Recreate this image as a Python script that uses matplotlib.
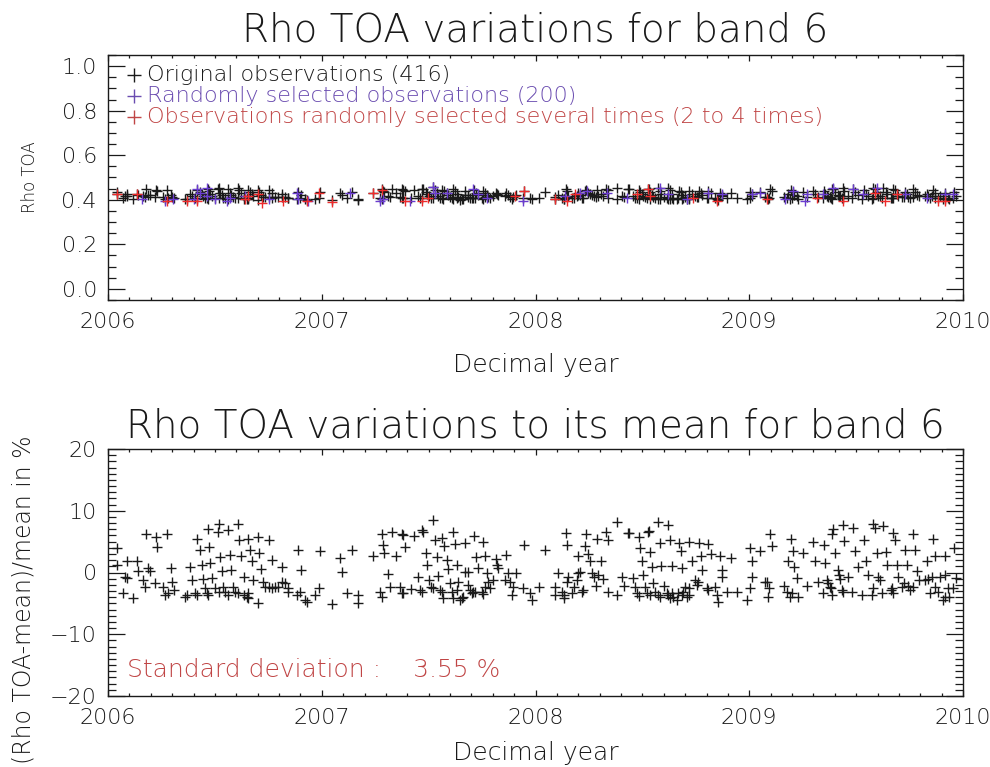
"""Rho TOA variations for band 6 - time series and relative deviation."""

import matplotlib

matplotlib.use("Agg")
import matplotlib.pyplot as plt
import numpy as np
from matplotlib.ticker import FormatStrFormatter, MultipleLocator

# relative deviation to the mean (%), by year
YEARS_2006 = [
    2006.041, 2006.041, 2006.088, 2006.134, 2006.080, 2006.088, 2006.072, 2006.119,
    2006.177, 2006.225, 2006.275, 2006.231, 2006.142, 2006.189, 2006.197, 2006.166, 2006.173,
    2006.220, 2006.259, 2006.267, 2006.283, 2006.294, 2006.298, 2006.311,
    2006.361, 2006.368, 2006.384, 2006.395, 2006.407, 2006.415,
    2006.415, 2006.431, 2006.442, 2006.478, 2006.446, 2006.485, 2006.454, 2006.462, 2006.470,
    2006.467, 2006.513, 2006.517, 2006.474, 2006.524,
    2006.501, 2006.517, 2006.540, 2006.548, 2006.563, 2006.587, 2006.595, 2006.610, 2006.634,
    2006.649, 2006.657, 2006.654,
    2006.563, 2006.606, 2006.571, 2006.532, 2006.576,
    2006.613, 2006.657, 2006.701, 2006.623, 2006.634,
    2006.665, 2006.673, 2006.707, 2006.680, 2006.701, 2006.716,
    2006.727, 2006.735, 2006.751, 2006.766, 2006.782, 2006.797, 2006.813, 2006.829, 2006.844, 2006.844,
    2006.755, 2006.766, 2006.816, 2006.891, 2006.902, 2006.883, 2006.899, 2006.930, 2006.922,
    2006.969, 2006.985, 2006.992,
]
PCT_2006 = [
    3.9, 1.2, 1.8, 1.8, -0.7, -0.9, -3.3, -4.2,
    6.3, 5.8, 6.2, 4.1, 0.2, 0.7, 0.2, -1.2, -2.3,
    -1.7, -2.3, -3.6, -3.3, 0.7, -1.5, -2.8,
    -3.9, -3.6, 0.9, -1.2, -3.3, -3.6,
    5.4, 3.7, 1.2, 1.5, -1.0, -0.9, -2.5, -3.3, -3.6,
    7.0, 6.5, 7.9, 4.2, 2.5,
    -2.5, -3.1, -2.4, -3.2, -3.6, -2.3, -3.2, -3.3, -3.6,
    -3.9, -3.3, -4.2,
    6.9, 7.9, 2.9, 0.2, 0.4,
    5.3, 5.5, 5.7, 2.6, -0.7,
    3.7, 1.8, 3.2, -1.2, -5.0, 0.5,
    -1.5, -2.3, -2.3, -2.5, -2.3, -2.3, -1.5, -1.7, -2.5, -3.1,
    5.3, 2.0, 0.9, 3.7, 0.4, -3.6, -3.1, -4.7, -4.4,
    -3.6, -2.5, 3.5,
]

YEARS_2007 = [
    2007.049, 2007.085, 2007.140, 2007.093, 2007.116, 2007.171, 2007.171,
    2007.280, 2007.327, 2007.377, 2007.382, 2007.433, 2007.475, 2007.471, 2007.522,
    2007.288, 2007.293, 2007.241, 2007.346, 2007.389, 2007.308,
    2007.272, 2007.283, 2007.319, 2007.366, 2007.374, 2007.382, 2007.417,
    2007.452, 2007.460, 2007.471, 2007.488, 2007.494, 2007.502, 2007.511, 2007.522,
    2007.530, 2007.564, 2007.616, 2007.714, 2007.756, 2007.572, 2007.623, 2007.670,
    2007.541, 2007.584, 2007.545, 2007.589, 2007.631,
    2007.553, 2007.561, 2007.569, 2007.600, 2007.608, 2007.616, 2007.631, 2007.639, 2007.647,
    2007.655, 2007.662,
    2007.670, 2007.686,
    2007.686, 2007.694, 2007.701, 2007.709, 2007.717, 2007.748, 2007.756, 2007.764,
    2007.720, 2007.764, 2007.729, 2007.775,
    2007.779, 2007.787, 2007.803,
    2007.814, 2007.818, 2007.823,
    2007.862, 2007.870, 2007.907,
    2007.857, 2007.881, 2007.896, 2007.892,
    2007.948, 2007.943, 2007.974, 2007.982,
]
PCT_2007 = [
    -5.1, 2.3, 3.65, 0.15, -3.3, -3.6, -5.0,
    6.3, 6.6, 6.3, 6.1, 5.9, 6.6, 6.9, 8.5,
    4.5, 3.1, 2.7, 2.7, 4.1, -0.2,
    -3.2, -4.0, -2.3, -2.3, -3.3, -3.4, -2.7,
    -0.75, -2.8, -3.2, 3.2, 1.2, -1.2, -2.4, -2.5,
    5.3, 5.6, 6.5, 5.9, 4.9, 4.3, 4.6, 4.8,
    2.5, 2.0, -0.5, 0.5, 1.2,
    -2.8, -3.1, -4.15, -1.7, -3.2, -4.15, -2.8, -1.5, -4.5,
    -4.15, -3.9,
    0.15, 0.15,
    -2.0, -2.8, -3.3, -3.2, -3.1, -3.1, -3.5, -2.3,
    2.5, 2.7, 0.7, 0.0,
    -1.5, -2.5, -1.2,
    2.2, 1.2, 0.7,
    2.85, 0.0, 0.0,
    -1.2, -1.5, -2.3, -3.6,
    4.5, -2.5, -3.3, -4.4,
]

YEARS_2008 = [
    2008.017, 2008.045, 2008.092, 2008.092, 2008.107, 2008.131, 2008.131, 2008.123,
    2008.142, 2008.149, 2008.154, 2008.146,
    2008.170, 2008.182, 2008.193, 2008.201, 2008.198,
    2008.209, 2008.216, 2008.224,
    2008.235, 2008.232, 2008.244, 2008.255, 2008.305,
    2008.263, 2008.276, 2008.294, 2008.282, 2008.318,
    2008.287, 2008.330, 2008.338,
    2008.341, 2008.380, 2008.380,
    2008.407, 2008.416, 2008.458, 2008.505,
    2008.432, 2008.438,
    2008.482, 2008.489, 2008.497, 2008.536,
    2008.466, 2008.474, 2008.482, 2008.513, 2008.521, 2008.536, 2008.552, 2008.560, 2008.575,
    2008.583, 2008.599, 2008.614, 2008.622, 2008.630, 2008.638, 2008.645, 2008.661, 2008.669,
    2008.684, 2008.708, 2008.716, 2008.700, 2008.716,
    2008.525, 2008.532,
    2008.544, 2008.588, 2008.638, 2008.684,
    2008.572, 2008.619,
    2008.583, 2008.630, 2008.672, 2008.716, 2008.766, 2008.809,
    2008.680, 2008.731,
    2008.692,
    2008.747, 2008.755, 2008.762,
    2008.773, 2008.822, 2008.864, 2008.914,
    2008.778,
    2008.801, 2008.809, 2008.840, 2008.848, 2008.856,
    2008.872, 2008.872,
    2008.895, 2008.942,
]
PCT_2008 = [
    -2.4, 3.65, -2.3, -3.6, -0.1, -3.6, -4.15, -3.1,
    6.45, 4.5, -0.65, -1.5,
    -3.3, -2.4, -1.2, -0.1, 2.6,
    0.15, -3.1, -2.9,
    6.2, 4.3, 3.0, 1.8, 1.9,
    -0.1, -0.65, -0.4, -2.2, -1.1,
    5.5, 6.6, 5.3,
    -3.1, -3.6, 8.2,
    -0.75, -2.2, -0.9, -0.4,
    6.45, 6.45,
    5.7, 4.0, 1.8, 3.4,
    -2.4, -3.3, -3.8, -2.3, -3.3, -3.6, -1.7, -3.1, -3.6,
    -3.9, -2.2, -3.3, -3.6, -4.15, -3.3, -3.9, -4.4, -3.3,
    -3.6, -3.9, -3.6, -2.3, -2.5,
    6.6, 6.8,
    0.85, 1.1, 1.1, 0.7,
    8.2, 7.7,
    4.8, 5.3, 4.8, 5.0, 4.7, 4.6,
    3.5, 1.8,
    -3.1,
    -1.2, -2.0, -1.5,
    2.7, 2.95, 2.6, 2.3,
    0.4,
    -2.5, -2.8, -2.4, -3.6, -4.7,
    0.4, -0.65,
    -3.1, -3.1,
]

YEARS_2009 = [
    2008.988, 2009.003, 2009.011, 2009.014, 2009.003,
    2009.050, 2009.097, 2009.105,
    2009.074, 2009.081, 2009.092, 2009.086,
    2009.195, 2009.206, 2009.253,
    2009.180, 2009.211, 2009.222,
    2009.164, 2009.175, 2009.198, 2009.191, 2009.230,
    2009.269,
    2009.300, 2009.350, 2009.308, 2009.354,
    2009.320, 2009.362, 2009.370, 2009.378, 2009.382, 2009.347, 2009.389,
    2009.389, 2009.393, 2009.437, 2009.487,
    2009.401, 2009.414, 2009.420,
    2009.425, 2009.432, 2009.440, 2009.464, 2009.479,
    2009.445,
    2009.495, 2009.507, 2009.545,
    2009.538,
    2009.526, 2009.557, 2009.573, 2009.581, 2009.604, 2009.612, 2009.620,
    2009.577, 2009.588, 2009.627,
    2009.596, 2009.638,
    2009.643, 2009.690, 2009.737,
    2009.663, 2009.674, 2009.666, 2009.698,
    2009.674, 2009.682,
    2009.713, 2009.726, 2009.744, 2009.752, 2009.768,
    2009.729, 2009.776, 2009.768,
    2009.787, 2009.794,
    2009.822, 2009.838, 2009.854,
    2009.830, 2009.869, 2009.916, 2009.861, 2009.960,
    2009.846, 2009.869, 2009.885, 2009.893, 2009.932, 2009.916, 2009.955, 2009.966,
    2009.908, 2009.916, 2009.935,
]
PCT_2009 = [
    -4.4, 3.9, 1.8, -0.75, -2.5,
    3.5, 6.3, 4.3,
    -1.5, -1.6, -2.5, -3.9,
    5.5, 3.5, 3.1,
    1.8, 0.85, -0.9,
    -2.2, -3.1, -3.3, -4.0, -3.9,
    -2.2,
    4.9, 4.5, 1.8, 1.5,
    -1.5, -1.2, -1.7, -2.3, -2.5, -3.3, -3.6,
    6.3, 7.0, 7.7, 7.2,
    3.1, 0.4, -0.4,
    -1.1, -2.8, -3.1, -0.65, -3.1,
    5.1,
    3.5, 0.85, 1.8,
    5.3,
    -3.6, -0.4, -3.6, -2.5, -0.65, -1.2, -3.3,
    7.85, 7.2, 7.5,
    3.2, 3.4,
    1.2, 1.2, 1.2,
    -2.8, -3.3, -2.5, -0.75,
    6.45, 5.2,
    -2.3, -1.7, -2.2, -2.8, -2.3,
    3.65, 3.65, 6.3,
    0.3, -1.2,
    -1.2, -1.1, -0.65,
    1.8, 2.6, 2.7, 5.4, 4.0,
    -3.3, -2.4, -3.1, -0.65, -2.5, -0.4, -2.5, -0.9,
    -4.4, -4.0, -3.9,
]

RHO_MEAN = 0.42
STD_PCT = 3.55

# observations randomly selected once (purple) and several times (red), upper panel
PURPLE_YEARS = [
    2006.158, 2006.267, 2006.306, 2006.400, 2006.415, 2006.431, 2006.462, 2006.462, 2006.501,
    2006.556, 2006.571, 2006.641, 2006.751, 2006.883, 2006.891, 2006.938,
    2007.132, 2007.272, 2007.288, 2007.413, 2007.522, 2007.530, 2007.584, 2007.709, 2007.733,
    2007.772, 2007.943,
    2008.138, 2008.209, 2008.240, 2008.333, 2008.427, 2008.583, 2008.622, 2008.708, 2008.809,
    2008.872,
    2009.011, 2009.050, 2009.167, 2009.206, 2009.261, 2009.269, 2009.347, 2009.393, 2009.487,
    2009.534, 2009.596, 2009.729, 2009.830, 2009.916, 2009.955,
]
PURPLE_RHO = [
    0.405, 0.395, 0.402, 0.402, 0.447, 0.432, 0.454, 0.417, 0.402,
    0.395, 0.410, 0.417, 0.402, 0.432, 0.402, 0.395,
    0.432, 0.395, 0.402, 0.395, 0.459, 0.432, 0.432, 0.447, 0.424,
    0.410, 0.395,
    0.417, 0.432, 0.439, 0.432, 0.410, 0.454, 0.424, 0.402, 0.432,
    0.424,
    0.424, 0.432, 0.402, 0.439, 0.395, 0.424, 0.424, 0.454, 0.447,
    0.424, 0.454, 0.424, 0.410, 0.424, 0.424,
]
RED_YEARS = [
    2006.041, 2006.134, 2006.275, 2006.368, 2006.415, 2006.641, 2006.657, 2006.704, 2006.719,
    2006.821, 2006.930, 2006.988,
    2007.049, 2007.241, 2007.283, 2007.389, 2007.467, 2007.499, 2007.904, 2007.948,
    2008.092, 2008.146, 2008.185, 2008.474, 2008.528, 2008.536, 2008.739, 2008.848,
    2009.081, 2009.315, 2009.440, 2009.588, 2009.635, 2009.690, 2009.885, 2009.916,
]
RED_RHO = [
    0.424, 0.424, 0.395, 0.395, 0.395, 0.402, 0.417, 0.424, 0.387,
    0.395, 0.395, 0.432,
    0.390, 0.429, 0.444, 0.395, 0.395, 0.410, 0.417, 0.439,
    0.402, 0.395, 0.424, 0.424, 0.447, 0.417, 0.410, 0.395,
    0.405, 0.410, 0.395, 0.432, 0.395, 0.424, 0.395, 0.395,
]

BLACK = "#1a1a1a"
PURPLE = "#6a3ccf"
RED = "#ee2b2b"
TEXT_PURPLE = "#6a4cb0"
TEXT_RED = "#c04545"

plt.rcParams["font.family"] = "DejaVu Sans"
plt.rcParams["font.weight"] = "light"
plt.rcParams["axes.titleweight"] = "light"
plt.rcParams["axes.labelweight"] = "light"


def style_axes(ax, ymajor, yminor):
    ax.set_xlim(2006, 2010)
    ax.xaxis.set_major_locator(MultipleLocator(1))
    ax.xaxis.set_minor_locator(MultipleLocator(0.1))
    ax.yaxis.set_major_locator(MultipleLocator(ymajor))
    ax.yaxis.set_minor_locator(MultipleLocator(yminor))
    ax.tick_params(axis="both", which="both", direction="in", top=True, right=True,
                   width=0.9, color=BLACK, labelcolor=BLACK)
    ax.tick_params(axis="x", which="major", length=4, pad=9, labelsize=16)
    ax.tick_params(axis="x", which="minor", length=2)
    ax.tick_params(axis="y", which="major", length=12, pad=8, labelsize=16)
    ax.tick_params(axis="y", which="minor", length=6)
    for spine in ax.spines.values():
        spine.set_linewidth(1.0)
        spine.set_color(BLACK)


years = np.array(YEARS_2006 + YEARS_2007 + YEARS_2008 + YEARS_2009)
pct = np.array(PCT_2006 + PCT_2007 + PCT_2008 + PCT_2009)
rho = RHO_MEAN * (1 + pct / 100)

fig = plt.figure(figsize=(9.9, 7.67), dpi=100, facecolor="white")
ax1 = fig.add_axes([108 / 990, 1 - 300 / 767, 855 / 990, 245 / 767])
ax2 = fig.add_axes([108 / 990, 1 - 696 / 767, 855 / 990, 247 / 767])

mk = dict(marker="+", linestyle="none", markersize=7, markeredgewidth=1.0)

# upper panel
ax1.plot(years, rho, color=BLACK, **mk)
ax1.plot(PURPLE_YEARS, PURPLE_RHO, color=PURPLE, **mk)
ax1.plot(RED_YEARS, RED_RHO, color=RED, **mk)
ax1.set_ylim(-0.05, 1.05)
style_axes(ax1, 0.2, 0.05)
ax1.yaxis.set_major_formatter(FormatStrFormatter("%.1f"))
ax1.set_title("Rho TOA variations for band 6", fontsize=28, pad=10, color=BLACK)
ax1.set_xlabel("Decimal year", fontsize=18, labelpad=15, color=BLACK)
ax1.set_ylabel("Rho TOA", fontsize=12, labelpad=16, color=BLACK)

legend_rows = [
    ("Original observations (416)", BLACK),
    ("Randomly selected observations (200)", TEXT_PURPLE),
    ("Observations randomly selected several times (2 to 4 times)", TEXT_RED),
]
for i, (label, color) in enumerate(legend_rows):
    y = 0.92 - i * 0.086
    ax1.plot([0.03], [y], marker="+", color=color, markersize=10, markeredgewidth=1.0,
             transform=ax1.transAxes, clip_on=False)
    ax1.text(0.046, y, label, color=color, fontsize=16, transform=ax1.transAxes, va="center")

# lower panel
ax2.plot(years, pct, color=BLACK, **mk)
ax2.set_ylim(-20, 20)
style_axes(ax2, 10, 1)
ax2.set_title("Rho TOA variations to its mean for band 6", fontsize=28, pad=8, color=BLACK)
ax2.set_xlabel("Decimal year", fontsize=18, labelpad=9, color=BLACK)
ax2.set_ylabel("(Rho TOA-mean)/mean in %", fontsize=17, color=BLACK)
ax2.yaxis.set_label_coords(-0.085, 0.39)
ax2.text(0.022, 0.105, f"Standard deviation :    {STD_PCT:.2f} %", color=TEXT_RED,
         fontsize=18, transform=ax2.transAxes, va="center")

fig.savefig("out.png", dpi=100, facecolor="white")
